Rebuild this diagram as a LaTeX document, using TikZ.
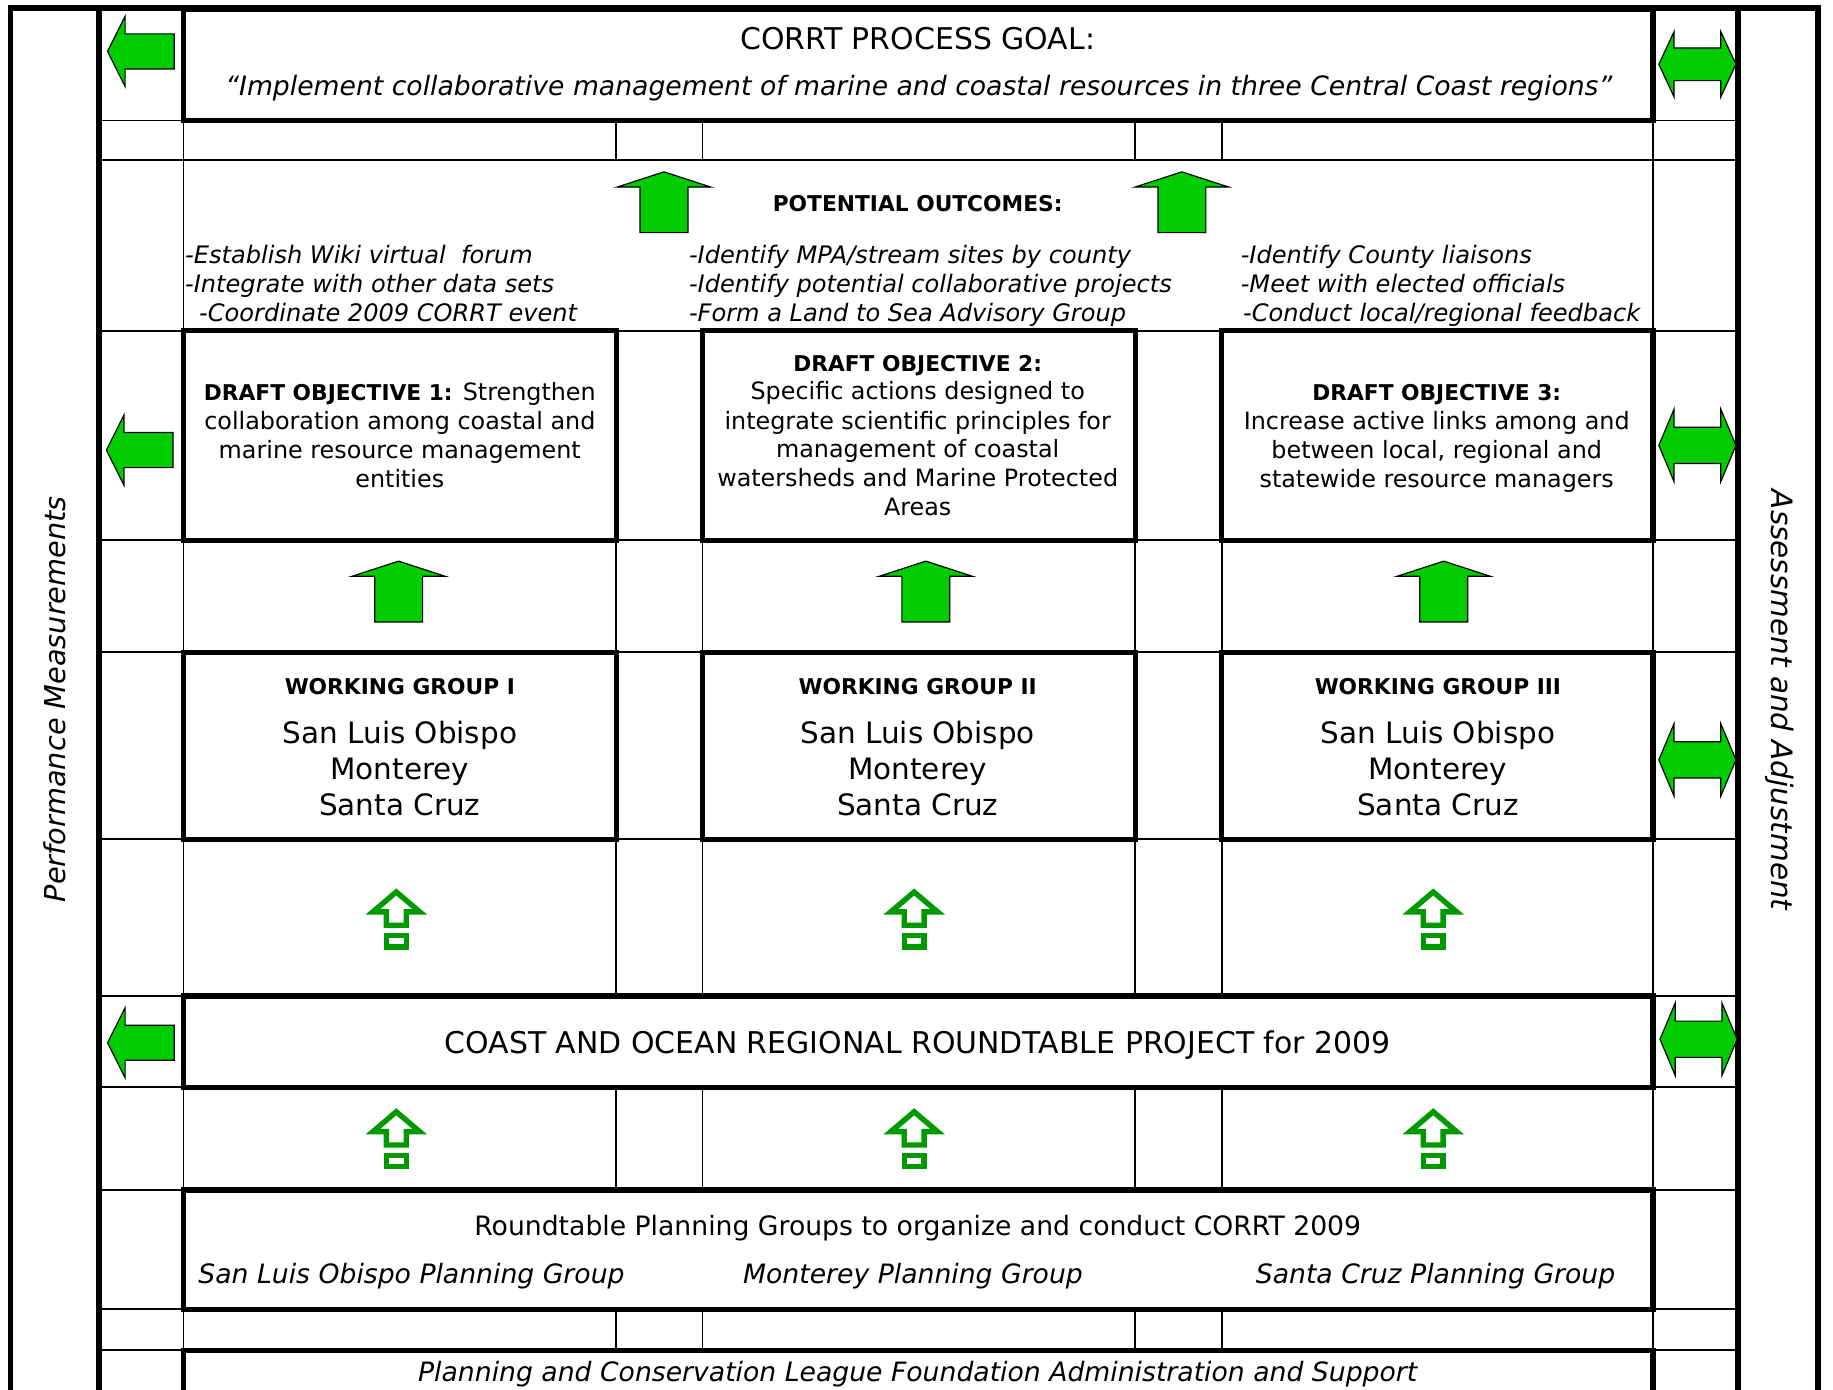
\documentclass[tikz,border=0pt]{standalone}
\usepackage{fontspec}
\setmainfont{DejaVu Sans}
\usetikzlibrary{fit}
\definecolor{arrowgreen}{RGB}{0,204,0}
\definecolor{hollowgreen}{RGB}{0,153,0}
\tikzset{
  thinline/.style={line width=0.75pt},
  frameline/.style={line width=2.5pt},
  box/.style={draw, line width=2.2pt, fill=white, inner sep=0pt},
  txt/.style={inner sep=0pt, anchor=base},
  txtw/.style={inner sep=0pt, anchor=base west},
  bigfont/.style={font=\fontsize{12.8}{15.5}\selectfont},
  quotefont/.style={font=\fontsize{11.4}{14}\selectfont\itshape},
  outcfont/.style={font=\fontsize{10.3}{12.5}\selectfont\itshape},
  headfont/.style={font=\fontsize{9.3}{11}\selectfont\bfseries},
  objfont/.style={font=\fontsize{10.2}{12.3}\selectfont},
  namefont/.style={font=\fontsize{12.6}{15.5}\selectfont},
  rtfont/.style={font=\fontsize{11.4}{14}\selectfont},
  rtitfont/.style={font=\fontsize{11.4}{14}\selectfont\itshape},
  sidefont/.style={font=\fontsize{12.3}{14}\selectfont\itshape},
  arrowfill/.style={fill=arrowgreen, draw=black, line width=0.5pt, line join=miter},
  hollow/.style={draw=hollowgreen, line width=2.3pt, line join=miter},
  pics/bigup/.style={code={
    \draw[arrowfill] (0,0) -- (40,13) -- (20.5,13) -- (20.5,52) -- (-20.5,52) -- (-20.5,13) -- (-40,13) -- cycle;}},
  pics/leftblock/.style={code={
    \draw[arrowfill] (0,0) -- (15,-30) -- (15,-15) -- (57,-15) -- (57,15) -- (15,15) -- (15,30) -- cycle;}},
  pics/dblblock/.style={code={
    \draw[arrowfill] (0,0) -- (13,-31) -- (13,-15.5) -- (53,-15.5) -- (53,-31) -- (66,0) -- (53,31) -- (53,15.5) -- (13,15.5) -- (13,31) -- cycle;}},
  pics/hollowup/.style={code={
    \draw[hollow] (0,4) -- (20,21) -- (8.5,21) -- (8.5,32.5) -- (-8.5,32.5) -- (-8.5,21) -- (-20,21) -- cycle;
    \draw[hollow] (-8.5,41.5) rectangle (8.5,51);}}
}
\begin{document}
\begin{tikzpicture}[x=0.5pt,y=-0.5pt]
\clip (0,0) rectangle (1568,1189);
\fill[white] (0,0) rectangle (1568,1189);

% thin grid lines
\foreach \yy in {103,137,283,462,558,718,852,930,1018,1120,1155}
  \draw[thinline] (85,\yy) -- (1487,\yy);
\foreach \xx in {157,1414}
  \draw[thinline] (\xx,103) -- (\xx,1200);
\foreach \xx in {527,601,971,1045}{
  \draw[thinline] (\xx,103) -- (\xx,137);
  \draw[thinline] (\xx,283) -- (\xx,852);
  \draw[thinline] (\xx,930) -- (\xx,1018);
  \draw[thinline] (\xx,1120) -- (\xx,1155);
}

% outer frame
\draw[frameline] (9,1200) -- (9,7) -- (1555,7) -- (1555,1200);
\draw[frameline] (85,7) -- (85,1200);
\draw[frameline] (1487,7) -- (1487,1200);

% boxes
\node[box, fit={(157,8) (1414,103)}] (goal) {};
\node[box, fit={(157,283) (527,462)}] (obj1) {};
\node[box, fit={(601,283) (971,462)}] (obj2) {};
\node[box, fit={(1045,283) (1414,462)}] (obj3) {};
\node[box, fit={(157,558) (527,718)}] (wg1) {};
\node[box, fit={(601,558) (971,718)}] (wg2) {};
\node[box, fit={(1045,558) (1414,718)}] (wg3) {};
\node[box, fit={(157,852) (1414,930)}] (proj) {};
\node[box, fit={(157,1018) (1414,1120)}] (plan) {};
\node[box, fit={(157,1155) (1414,1230)}] (pcl) {};

% goal text
\node[txt, bigfont] (goalA) at (785,42) {CORRT PROCESS GOAL:};
\node[txt, quotefont] (goalB) at (786,82) {“Implement collaborative management of marine and coastal resources in three Central Coast regions”};

% outcomes
\node[txt, headfont] (outH) at (785,181) {POTENTIAL OUTCOMES:};
\node[txtw, outcfont] (o11) at (158,225) {-Establish Wiki virtual\ \ forum};
\node[txtw, outcfont] (o12) at (158,250) {-Integrate with other data sets};
\node[txtw, outcfont] (o13) at (170,275) {-Coordinate 2009 CORRT event};
\node[txtw, outcfont] (o21) at (589,225) {-Identify MPA/stream sites by county};
\node[txtw, outcfont] (o22) at (589,250) {-Identify potential collaborative projects};
\node[txtw, outcfont] (o23) at (589,275) {-Form a Land to Sea Advisory Group};
\node[txtw, outcfont] (o31) at (1061,225) {-Identify County liaisons};
\node[txtw, outcfont] (o32) at (1061,250) {-Meet with elected officials};
\node[txtw, outcfont] (o33) at (1063,275) {-Conduct local/regional feedback};

% objectives
\node[txt, objfont] (ob11) at (342,343) {{\fontsize{9.3}{11}\selectfont\bfseries DRAFT OBJECTIVE 1:} Strengthen};
\node[txt, objfont] (ob12) at (342,367) {collaboration among coastal and};
\node[txt, objfont] (ob13) at (342,392) {marine resource management};
\node[txt, objfont] (ob14) at (342,417) {entities};
\node[txt, headfont] (ob21) at (785,318) {DRAFT OBJECTIVE 2:};
\node[txt, objfont] (ob22) at (785,342) {Specific actions designed to};
\node[txt, objfont] (ob23) at (785,367) {integrate scientific principles for};
\node[txt, objfont] (ob24) at (785,391) {management of coastal};
\node[txt, objfont] (ob25) at (785,416) {watersheds and Marine Protected};
\node[txt, objfont] (ob26) at (785,441) {Areas};
\node[txt, headfont] (ob31) at (1229,343) {DRAFT OBJECTIVE 3:};
\node[txt, objfont] (ob32) at (1229,367) {Increase active links among and};
\node[txt, objfont] (ob33) at (1229,392) {between local, regional and};
\node[txt, objfont] (ob34) at (1229,417) {statewide resource managers};

% working groups
\foreach \cx/\nm/\lab in {342/1/I, 785/2/II, 1230/3/III}{
  \node[txt, headfont] (wgh\nm) at (\cx,594) {WORKING GROUP \lab};
  \node[txt, namefont] (wga\nm) at (\cx,636) {San Luis Obispo};
  \node[txt, namefont] (wgb\nm) at (\cx,667) {Monterey};
  \node[txt, namefont] (wgc\nm) at (\cx,698) {Santa Cruz};
}

% project / planning
\node[txt, bigfont] (projT) at (785,901) {COAST AND OCEAN REGIONAL ROUNDTABLE PROJECT for 2009};
\node[txt, rtfont] (planT) at (785,1057) {Roundtable Planning Groups to organize and conduct CORRT 2009};
\node[txt, rtitfont] (planA) at (352,1098) {San Luis Obispo Planning Group};
\node[txt, rtitfont] (planB) at (781,1098) {Monterey Planning Group};
\node[txt, rtitfont] (planC) at (1228,1098) {Santa Cruz Planning Group};
\node[txt, rtitfont] (pclT) at (785,1182) {Planning and Conservation League Foundation Administration and Support};

% side texts
\node[sidefont, rotate=90, inner sep=0pt] (perf) at (47,598) {Performance Measurements};
\node[sidefont, rotate=-90, inner sep=0pt, font=\fontsize{12.6}{14}\selectfont\itshape] (assess) at (1522,599) {Assessment and Adjustment};

% block arrows
\pic at (568,147) {bigup};
\pic at (1011,147) {bigup};
\pic at (341,480) {bigup};
\pic at (792,480) {bigup};
\pic at (1235,480) {bigup};
\pic at (92,44) {leftblock};
\pic at (91,385) {leftblock};
\pic at (92,892) {leftblock};
\pic[yscale=0.9] at (1419,55) {dblblock};
\pic at (1419,381) {dblblock};
\pic at (1419,650) {dblblock};
\pic at (1420,889) {dblblock};

% hollow arrows
\foreach \cx in {339,782,1226}{
  \pic at (\cx,759) {hollowup};
  \pic at (\cx,947) {hollowup};
}
\end{tikzpicture}
\end{document}
